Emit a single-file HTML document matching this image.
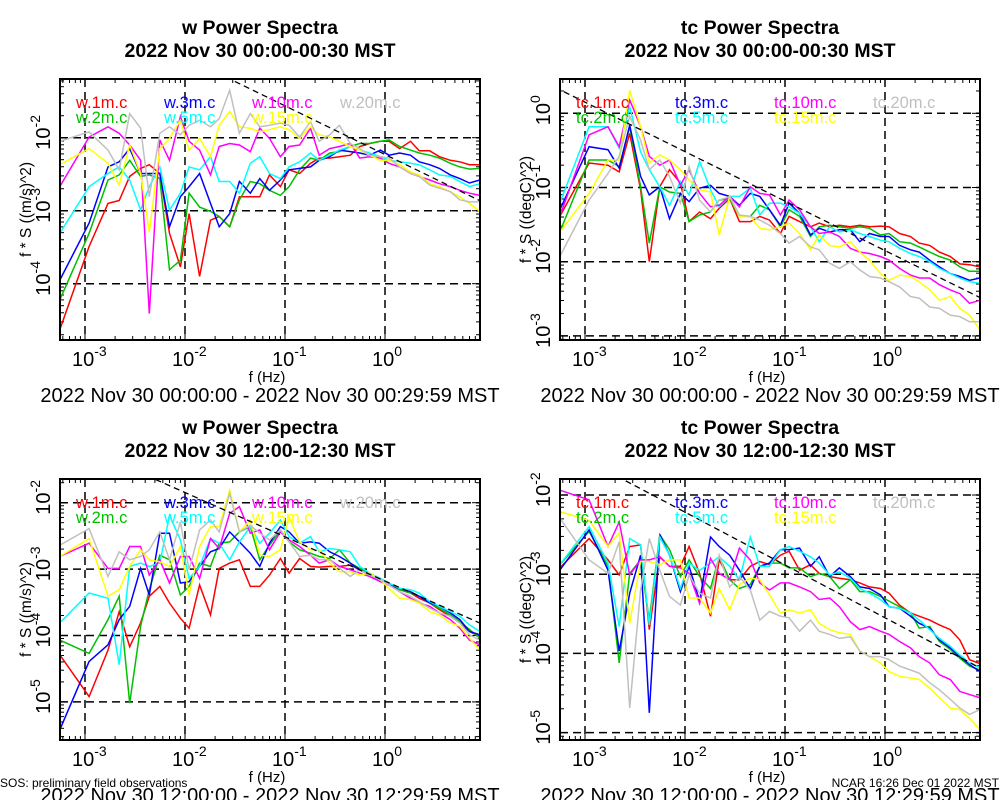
<!DOCTYPE html>
<html><head><meta charset="utf-8"><style>
html,body{margin:0;padding:0;background:#fff;width:1000px;height:800px;overflow:hidden}
svg{display:block;font-family:"Liberation Sans",sans-serif}
</style></head><body>
<svg id="chart" width="1000" height="800" viewBox="0 0 1000 800" xmlns="http://www.w3.org/2000/svg">
<rect width="1000" height="800" fill="#fff"/>
</svg>
<script>
const freqs=[5.6e-4,1.1e-3,1.7e-3,2.2e-3,2.8e-3,3.6e-3,4.4e-3,5.6e-3,7e-3,9e-3,0.011,0.014,0.018,0.022,0.028,0.035,0.045,0.056,0.07,0.09,0.11,0.14,0.18,0.22,0.28,0.35,0.45,0.56,0.7,0.9,1.1,1.4,1.8,2.2,2.8,3.5,4.5,5.6,7,8.9];
const xTickLabels=["-3","-2","-1","0"];
const seriesColors=["#ff0000","#00c000","#0000ff","#00ffff","#ff00ff","#ffff00","#c0c0c0"];
// Panel 1: w, 00:00-00:30 (log10 values)
const w00_1m=[-4.63,-3.49,-2.90,-2.86,-2.53,-2.42,-2.37,-2.49,-3.31,-3.77,-3.04,-3.90,-3.13,-3.08,-3.22,-2.81,-2.81,-2.81,-2.51,-2.67,-2.44,-2.49,-2.35,-2.28,-2.28,-2.26,-2.24,-2.12,-2.08,-2.05,-2.05,-2.15,-2.05,-2.18,-2.18,-2.26,-2.31,-2.33,-2.37,-2.37];
const w00_2m=[-4.22,-3.31,-2.58,-2.51,-2.31,-2.53,-2.51,-2.56,-3.81,-3.68,-2.76,-2.95,-3.01,-3.08,-3.22,-2.85,-2.60,-2.63,-2.72,-2.79,-2.67,-2.44,-2.28,-2.31,-2.21,-2.19,-2.12,-2.08,-2.08,-2.05,-2.03,-2.12,-2.17,-2.21,-2.24,-2.28,-2.35,-2.40,-2.43,-2.42];
const w00_3m=[-3.95,-3.17,-2.40,-2.33,-2.15,-2.49,-2.49,-2.49,-3.22,-2.81,-2.67,-2.49,-2.90,-3.22,-3.04,-2.60,-2.76,-2.56,-2.72,-2.58,-2.44,-2.42,-2.40,-2.31,-2.26,-2.17,-2.19,-2.21,-2.24,-2.17,-2.24,-2.21,-2.24,-2.33,-2.37,-2.42,-2.51,-2.56,-2.62,-2.58];
const w00_5m=[-3.31,-2.67,-2.49,-2.40,-2.58,-2.99,-2.67,-2.40,-2.99,-2.76,-2.40,-2.44,-2.26,-2.60,-2.60,-2.76,-2.35,-2.26,-2.49,-2.56,-2.40,-2.33,-2.21,-2.31,-2.24,-2.17,-2.12,-2.17,-2.21,-2.26,-2.31,-2.33,-2.35,-2.37,-2.44,-2.51,-2.53,-2.60,-2.67,-2.63];
const w00_10m=[-2.67,-1.99,-1.85,-1.94,-2.10,-2.31,-4.41,-2.03,-2.31,-1.71,-2.05,-2.17,-2.51,-2.12,-2.08,-2.10,-2.19,-1.87,-2.01,-2.26,-2.12,-2.10,-1.87,-2.24,-2.15,-2.12,-2.08,-2.28,-2.26,-2.28,-2.35,-2.40,-2.49,-2.53,-2.58,-2.63,-2.67,-2.72,-2.76,-2.79];
const w00_15m=[-2.37,-2.15,-2.35,-2.65,-2.10,-2.49,-3.29,-2.15,-2.01,-1.76,-2.17,-2.01,-2.26,-1.83,-1.64,-1.85,-1.87,-1.92,-1.89,-1.85,-1.89,-2.01,-1.85,-1.96,-1.99,-2.05,-2.12,-2.17,-2.24,-2.31,-2.31,-2.37,-2.47,-2.51,-2.63,-2.67,-2.74,-2.81,-2.90,-3.01];
const w00_20m=[-2.05,-1.92,-2.17,-2.44,-1.67,-1.87,-2.81,-1.94,-1.85,-1.96,-1.83,-1.76,-1.85,-1.74,-1.35,-1.94,-1.67,-1.85,-1.83,-1.80,-1.83,-1.99,-1.78,-2.05,-1.96,-1.83,-2.08,-2.15,-2.24,-2.26,-2.28,-2.40,-2.49,-2.53,-2.65,-2.69,-2.74,-2.85,-2.88,-2.88];
// Panel 2: tc, 00:00-00:30
const tc00_1m=[-1.39,-0.67,-0.70,-0.79,-0.27,-1.03,-2.00,-0.99,-0.76,-0.94,-1.46,-1.33,-1.42,-1.28,-1.15,-1.46,-1.46,-1.39,-1.44,-1.62,-1.39,-1.46,-1.53,-1.48,-1.53,-1.51,-1.53,-1.51,-1.53,-1.52,-1.53,-1.62,-1.66,-1.75,-1.78,-1.87,-1.93,-2.03,-2.04,-2.07];
const tc00_2m=[-1.60,-0.63,-0.63,-0.72,-0.18,-0.99,-1.75,-0.99,-1.06,-1.08,-1.46,-1.37,-1.33,-1.17,-1.15,-1.39,-1.39,-1.24,-1.30,-1.53,-1.30,-1.39,-1.66,-1.53,-1.51,-1.53,-1.55,-1.53,-1.55,-1.64,-1.62,-1.73,-1.75,-1.80,-1.87,-1.93,-1.98,-2.07,-2.13,-2.13];
const tc00_3m=[-1.30,-0.45,-0.49,-0.74,-0.16,-0.85,-1.10,-0.99,-1.42,-1.08,-1.19,-1.01,-0.97,-1.08,-1.12,-1.24,-1.08,-1.12,-1.30,-1.51,-1.21,-1.35,-1.64,-1.55,-1.60,-1.57,-1.57,-1.73,-1.62,-1.66,-1.66,-1.78,-1.84,-1.87,-1.98,-2.07,-2.16,-2.20,-2.25,-2.22];
const tc00_5m=[-1.21,-0.18,-0.18,-0.47,0.09,-0.52,-0.76,-0.99,-1.24,-0.92,-1.10,-0.65,-1.03,-1.26,-1.12,-1.12,-1.01,-1.37,-1.21,-1.21,-1.26,-1.35,-1.53,-1.73,-1.53,-1.60,-1.57,-1.62,-1.66,-1.71,-1.73,-1.82,-1.89,-1.93,-2.00,-2.09,-2.16,-2.22,-2.27,-2.29];
const tc00_10m=[-1.39,-0.29,-0.18,-0.45,0.18,-0.18,-0.58,-0.70,-0.63,-0.97,-0.76,-1.08,-1.26,-1.24,-1.12,-1.26,-0.99,-1.08,-1.10,-1.37,-1.17,-1.30,-1.53,-1.62,-1.60,-1.66,-1.82,-1.87,-1.89,-1.93,-1.98,-2.09,-2.18,-2.22,-2.22,-2.31,-2.38,-2.43,-2.56,-2.52];
const tc00_15m=[-1.60,-1.08,-0.63,-0.63,0.31,-0.18,-0.67,-0.56,-0.63,-0.76,-0.90,-1.03,-1.06,-1.64,-1.12,-1.39,-1.39,-1.55,-1.57,-1.53,-1.48,-1.62,-1.84,-1.64,-1.78,-1.80,-1.73,-1.87,-1.98,-2.16,-2.25,-2.18,-2.20,-2.27,-2.38,-2.52,-2.47,-2.63,-2.72,-2.92];
const tc00_20m=[-1.93,-1.17,-0.81,-0.58,-0.04,-0.36,-0.76,-0.63,-0.85,-1.21,-0.72,-1.17,-1.33,-1.17,-1.12,-1.37,-1.39,-1.44,-1.51,-1.62,-1.75,-1.66,-1.80,-1.84,-2.02,-2.09,-2.00,-2.11,-2.20,-2.22,-2.27,-2.34,-2.47,-2.49,-2.61,-2.63,-2.72,-2.74,-2.81,-2.81];
// Panel 3: w, 12:00-12:30
const w12_1m=[-4.29,-4.92,-4.22,-3.64,-4.17,-3.81,-3.41,-3.26,-3.51,-3.74,-3.89,-3.24,-3.69,-2.99,-2.91,-2.86,-3.26,-3.26,-3.09,-2.84,-3.06,-2.84,-2.96,-2.97,-2.96,-2.96,-2.94,-3.01,-3.09,-3.16,-3.24,-3.31,-3.36,-3.44,-3.51,-3.61,-3.71,-3.81,-3.94,-4.02];
const w12_2m=[-4.07,-4.27,-3.76,-3.41,-5.02,-3.86,-3.31,-2.79,-2.86,-3.39,-3.26,-2.91,-2.96,-2.61,-2.59,-2.44,-2.36,-2.86,-2.64,-2.41,-2.59,-2.71,-2.76,-2.81,-2.84,-2.71,-2.91,-2.99,-3.06,-3.16,-3.24,-3.31,-3.36,-3.41,-3.51,-3.59,-3.69,-3.79,-3.91,-4.04];
const w12_3m=[-5.42,-4.39,-4.14,-3.76,-3.56,-2.99,-3.39,-2.46,-2.46,-3.21,-3.19,-2.96,-2.74,-2.69,-2.44,-2.59,-2.76,-2.96,-2.61,-2.36,-2.44,-2.61,-2.59,-2.61,-2.74,-2.81,-2.91,-3.01,-3.09,-3.16,-3.24,-3.29,-3.34,-3.41,-3.51,-3.56,-3.66,-3.76,-3.94,-3.99];
const w12_5m=[-3.81,-3.36,-3.44,-4.44,-2.96,-2.91,-2.96,-2.91,-2.19,-2.56,-3.14,-2.96,-2.54,-2.61,-2.86,-2.59,-2.36,-2.61,-2.46,-2.26,-2.51,-2.61,-2.51,-2.74,-2.69,-2.71,-2.74,-2.96,-3.06,-3.14,-3.21,-3.29,-3.31,-3.36,-3.49,-3.56,-3.64,-3.71,-3.84,-3.94];
const w12_10m=[-2.81,-2.61,-2.99,-2.99,-2.66,-2.66,-3.09,-2.86,-3.21,-2.81,-2.81,-3.14,-2.54,-2.69,-2.16,-2.06,-2.46,-2.41,-2.71,-2.44,-2.56,-2.66,-2.79,-2.91,-2.86,-2.96,-3.01,-3.06,-3.11,-3.19,-3.24,-3.34,-3.44,-3.51,-3.56,-3.66,-3.76,-3.89,-4.07,-4.14];
const w12_15m=[-2.81,-2.54,-3.41,-3.31,-2.96,-2.71,-2.86,-2.89,-2.96,-2.66,-3.39,-2.66,-2.36,-2.36,-1.81,-2.44,-2.26,-2.79,-2.81,-2.71,-2.21,-2.59,-2.71,-2.71,-2.91,-3.04,-3.04,-3.09,-3.06,-3.16,-3.29,-3.44,-3.46,-3.51,-3.64,-3.69,-3.81,-3.86,-4.04,-4.22];
const w12_20m=[-2.64,-2.39,-3.11,-2.74,-2.86,-2.81,-2.71,-2.44,-2.86,-2.29,-3.01,-2.41,-2.26,-2.44,-1.86,-2.44,-2.34,-2.46,-2.56,-2.41,-2.59,-2.81,-2.79,-2.86,-2.86,-2.99,-3.11,-3.01,-3.09,-3.16,-3.24,-3.34,-3.41,-3.49,-3.59,-3.66,-3.71,-3.81,-3.99,-4.07];
// Panel 4: tc, 12:00-12:30
const tc12_1m=[-2.92,-2.55,-2.82,-3.01,-2.65,-2.63,-3.70,-2.78,-2.90,-2.90,-2.65,-2.99,-3.53,-2.82,-3.07,-3.07,-2.90,-2.84,-2.88,-2.76,-2.71,-2.95,-2.88,-2.99,-3.03,-3.05,-3.07,-3.11,-3.16,-3.18,-3.24,-3.39,-3.49,-3.53,-3.58,-3.64,-3.70,-3.83,-4.08,-4.13];
const tc12_2m=[-2.88,-2.46,-2.90,-4.12,-2.99,-2.82,-3.58,-2.50,-2.69,-3.03,-2.82,-3.03,-3.18,-2.78,-3.07,-3.18,-3.13,-2.90,-2.86,-2.86,-2.92,-2.92,-3.03,-2.99,-3.03,-3.18,-3.07,-3.22,-3.22,-3.28,-3.34,-3.41,-3.49,-3.68,-3.66,-3.85,-3.95,-4.06,-4.16,-4.21];
const tc12_3m=[-2.95,-2.44,-2.95,-3.97,-3.24,-2.76,-4.75,-2.50,-2.76,-3.22,-2.90,-3.34,-2.53,-2.65,-2.76,-2.95,-3.18,-2.90,-2.86,-2.69,-2.69,-2.67,-2.90,-2.78,-3.03,-2.92,-3.03,-3.16,-3.18,-3.26,-3.41,-3.43,-3.53,-3.62,-3.68,-3.83,-3.93,-4.04,-4.14,-4.23];
const tc12_5m=[-2.88,-2.40,-2.86,-3.66,-2.55,-2.63,-3.64,-2.53,-2.76,-3.18,-2.86,-2.95,-2.86,-2.78,-2.90,-3.07,-2.53,-2.90,-2.90,-2.69,-2.65,-2.71,-2.78,-2.86,-3.01,-2.97,-3.05,-3.18,-3.24,-3.32,-3.41,-3.43,-3.49,-3.58,-3.70,-3.81,-3.91,-4.02,-4.12,-4.18];
const tc12_10m=[-1.94,-2.06,-2.65,-2.34,-3.01,-2.82,-2.82,-2.78,-2.90,-2.92,-2.99,-3.37,-2.80,-2.99,-3.07,-2.67,-2.82,-3.11,-3.20,-3.11,-3.11,-3.16,-3.22,-3.32,-3.30,-3.41,-3.60,-3.70,-3.66,-3.72,-3.76,-3.85,-3.93,-4.04,-4.12,-4.27,-4.33,-4.48,-4.52,-4.56];
const tc12_15m=[-2.21,-2.32,-2.65,-2.48,-3.62,-2.84,-2.84,-2.88,-2.82,-2.82,-3.30,-3.30,-3.49,-3.18,-3.45,-3.13,-3.05,-3.07,-3.26,-3.49,-3.45,-3.49,-3.45,-3.62,-3.70,-3.74,-3.76,-3.97,-4.04,-4.12,-4.23,-4.29,-4.31,-4.33,-4.44,-4.56,-4.69,-4.71,-4.82,-4.96];
const tc12_20m=[-2.29,-2.82,-2.99,-2.59,-4.69,-3.20,-2.55,-2.95,-3.28,-3.39,-3.01,-3.24,-3.30,-2.76,-3.16,-3.03,-3.20,-3.58,-3.47,-3.53,-3.55,-3.72,-3.58,-3.72,-3.76,-3.81,-3.79,-3.97,-4.04,-4.04,-4.08,-4.16,-4.21,-4.25,-4.37,-4.46,-4.58,-4.69,-4.77,-4.71];
const p1Names=["w.1m.c","w.2m.c","w.3m.c","w.5m.c","w.10m.c","w.15m.c","w.20m.c"];
const p2Names=["tc.1m.c","tc.2m.c","tc.3m.c","tc.5m.c","tc.10m.c","tc.15m.c","tc.20m.c"];
const p1YTicks=[-4,-3,-2];
const p2YTicks=[-3,-2,-1,0];
const p3YTicks=[-5,-4,-3,-2];
const p4YTicks=[-5,-4,-3,-2];
const refLineLevels=[-2.23,-1.85,-3.18,-3.55];

const NS="http://www.w3.org/2000/svg";
const svg=document.getElementById('chart');
function mk(tag,attrs,parent){const e=document.createElementNS(NS,tag);for(const k in attrs)e.setAttribute(k,attrs[k]);(parent||svg).appendChild(e);return e;}

const panels=[
 {left:60,top:79,y0:137.7,l0:-2,dec:73,yt:p1YTicks,names:p1Names,data:[w00_1m,w00_2m,w00_3m,w00_5m,w00_10m,w00_15m,w00_20m],ref:refLineLevels[0],t1:"w Power Spectra",t2:"2022 Nov 30 00:00-00:30 MST",ytitle:"f * S ((m/s)^2)",range:"2022 Nov 30 00:00:00 - 2022 Nov 30 00:29:59 MST",key:"w-0000"},
 {left:560,top:79,y0:113.3,l0:0,dec:74.2,yt:p2YTicks,names:p2Names,data:[tc00_1m,tc00_2m,tc00_3m,tc00_5m,tc00_10m,tc00_15m,tc00_20m],ref:refLineLevels[1],t1:"tc Power Spectra",t2:"2022 Nov 30 00:00-00:30 MST",ytitle:"f * S ((degC)^2)",range:"2022 Nov 30 00:00:00 - 2022 Nov 30 00:29:59 MST",key:"tc-0000"},
 {left:60,top:479,y0:502.7,l0:-2,dec:66.4,yt:p3YTicks,names:p1Names,data:[w12_1m,w12_2m,w12_3m,w12_5m,w12_10m,w12_15m,w12_20m],ref:refLineLevels[2],t1:"w Power Spectra",t2:"2022 Nov 30 12:00-12:30 MST",ytitle:"f * S ((m/s)^2)",range:"2022 Nov 30 12:00:00 - 2022 Nov 30 12:29:59 MST",key:"w-1200"},
 {left:560,top:479,y0:495,l0:-2,dec:79.2,yt:p4YTicks,names:p2Names,data:[tc12_1m,tc12_2m,tc12_3m,tc12_5m,tc12_10m,tc12_15m,tc12_20m],ref:refLineLevels[3],t1:"tc Power Spectra",t2:"2022 Nov 30 12:00-12:30 MST",ytitle:"f * S ((degC)^2)",range:"2022 Nov 30 12:00:00 - 2022 Nov 30 12:29:59 MST",key:"tc-1200"}
];
const W=420,H=261;
const legendCols=[[16,104,192,280],[16,115,214,313]];

panels.forEach((p,pi)=>{
  const g=mk('g',{});
  
  
  const xs=lf=>p.left+25+100*(lf+3);
  const ys=l=>p.y0-(l-p.l0)*p.dec;
  const ylo=p.l0-(p.top+H-p.y0)/p.dec, yhi=p.l0+(p.y0-p.top)/p.dec;
  const cx=p.left+W/2;
  let t=mk('text',{x:cx-10,y:p.top-45,'text-anchor':'middle','font-size':19.5,'font-weight':'bold'},g);t.textContent=p.t1;
  
  t=mk('text',{x:cx-10,y:p.top-22,'text-anchor':'middle','font-size':19.5,'font-weight':'bold'},g);t.textContent=p.t2;
  
  const cid='clip'+pi;
  const cp=mk('clipPath',{id:cid},g);mk('rect',{x:p.left,y:p.top,width:W,height:H},cp);
  const grid=mk('g',{stroke:'#000','stroke-width':1.5,'stroke-dasharray':'8,5'},g);
  
  xTickLabels.forEach(s=>{const x=xs(+s);mk('line',{x1:x,x2:x,y1:p.top,y2:p.top+H},grid);});
  p.yt.forEach(v=>{const y=ys(v);mk('line',{x1:p.left,x2:p.left+W,y1:y,y2:y},grid);});
  const tk=mk('g',{stroke:'#000','stroke-width':1},g);
  
  for(let d=-4;d<=1;d++)for(let m=1;m<10;m++){const lf=d+Math.log10(m);const x=xs(lf);if(x<p.left||x>p.left+W)continue;const L=m==1?8:4;
    mk('line',{x1:x,x2:x,y1:p.top+H,y2:p.top+H-L},tk);mk('line',{x1:x,x2:x,y1:p.top,y2:p.top+L},tk);}
  for(let d=-6;d<=1;d++)for(let m=1;m<10;m++){const l=d+Math.log10(m);if(l<ylo||l>yhi)continue;const y=ys(l);const L=m==1?8:4;
    mk('line',{x1:p.left,x2:p.left+L,y1:y,y2:y},tk);mk('line',{x1:p.left+W,x2:p.left+W-L,y1:y,y2:y},tk);}
  const sg=mk('g',{'clip-path':'url(#'+cid+')',fill:'none','stroke-width':1.5},g);
  p.data.forEach((arr,si)=>{
    const d=arr.map((v,i)=>(i?'L':'M')+xs(Math.log10(freqs[i])).toFixed(1)+','+ys(v).toFixed(1)).join(' ');
    const pl=mk('path',{d:d,stroke:seriesColors[si]},sg);
    
    
  });
  const la=-3.3,lb=1.0;
  const rl=mk('line',{x1:xs(la),y1:ys(p.ref-(2/3)*la),x2:xs(lb),y2:ys(p.ref-(2/3)*lb),stroke:'#000','stroke-width':1.3,'stroke-dasharray':'6,4'},sg);
  
  const fr=mk('rect',{x:p.left,y:p.top,width:W,height:H,fill:'none',stroke:'#000','stroke-width':2},g);
  
  const cols=legendCols[pi%2];
  p.names.forEach((n,si)=>{
    const col=Math.floor(si/2), row=si%2;
    const x=p.left+cols[col], y=p.top+29+row*15;
    const lt=mk('text',{x:x,y:y,'font-size':16.5,fill:seriesColors[si]},g);lt.textContent=n;
    
  });
  xTickLabels.forEach(s=>{
    const x=xs(+s);
    const tt=mk('text',{x:x-13,y:p.top+H+26,'font-size':20},g);
    
    const a=mk('tspan',{},tt);a.textContent='10';
    const b=mk('tspan',{dy:-10,'font-size':14},tt);b.textContent=s;
  });
  p.yt.forEach(v=>{
    const y=ys(v);
    const tt=mk('text',{x:0,y:0,'font-size':20,transform:'translate('+(p.left-10)+','+(y+12)+') rotate(-90)'},g);
    
    const a=mk('tspan',{},tt);a.textContent='10';
    const b=mk('tspan',{dy:-10,'font-size':14},tt);b.textContent=String(v);
  });
  t=mk('text',{x:cx-3,y:p.top+H+42,'text-anchor':'middle','font-size':15},g);t.textContent='f (Hz)';
  
  t=mk('text',{x:0,y:0,'text-anchor':'middle','font-size':15.5,transform:'translate('+(p.left-29)+','+(p.top+H/2)+') rotate(-90)'},g);t.textContent=p.ytitle;
  
  t=mk('text',{x:cx,y:p.top+H+62,'text-anchor':'middle','font-size':20},g);t.textContent=p.range;
  
});
let ft=mk('text',{x:0,y:787,'font-size':12});ft.textContent='SOS: preliminary field observations';

ft=mk('text',{x:999,y:787,'font-size':12,'text-anchor':'end'});ft.textContent='NCAR 16:26 Dec 01 2022 MST';

</script>
</body></html>
